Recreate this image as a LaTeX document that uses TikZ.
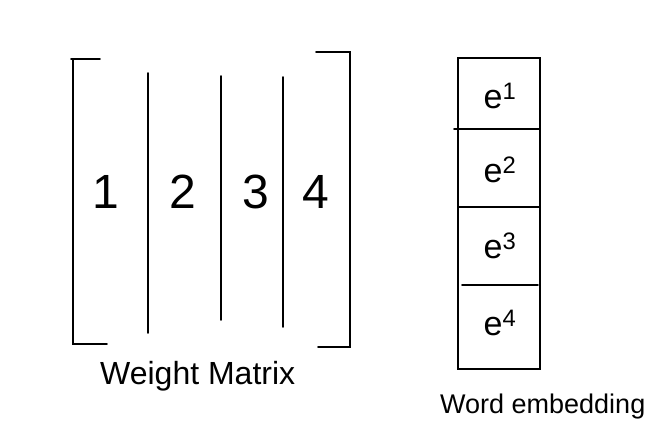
\documentclass[tikz,border=0pt]{standalone}
\usepackage{fontspec}
\setmainfont{Liberation Sans}
\begin{document}
\begin{tikzpicture}[x=1pt,y=-1pt,
  stroke/.style={line width=1.8pt,line cap=round,black},
  digit/.style={font=\fontsize{48}{48}\selectfont,inner sep=0pt},
  elabel/.style={font=\fontsize{34}{34}\selectfont,inner sep=0pt},
  caption/.style={font=\fontsize{27}{27}\selectfont,inner sep=0pt,anchor=base west}]
\useasboundingbox[fill=white] (0,0) rectangle (670,442);
% left bracket
\draw[stroke] (71,59) -- (100,59);
\draw[stroke] (73,60) -- (73,344) -- (107,344);
% right bracket
\draw[stroke] (316,52) -- (350,52) -- (350,347) -- (318,347);
% column separators
\draw[stroke] (148,73) -- (148,333);
\draw[stroke] (221,76) -- (221,320);
\draw[stroke] (283,77) -- (283,327);
% numbers
\node[digit] (n1) at (106,192) {1};
\node[digit] (n2) at (183,192) {2};
\node[digit] (n3) at (256,192) {3};
\node[digit] (n4) at (316,192) {4};
% word embedding box
\draw[stroke] (458,58) rectangle (540,369);
\draw[stroke] (454,129) -- (540,129);
\draw[stroke] (458,207) -- (540,207);
\draw[stroke] (462,285) -- (538,285);
\node[elabel] (e1) at (500,96) {e$^{\mathrm 1}$};
\node[elabel] (e2) at (500,170) {e$^{\mathrm 2}$};
\node[elabel] (e3) at (500,246) {e$^{\mathrm 3}$};
\node[elabel] (e4) at (500,323) {e$^{\mathrm 4}$};
% captions
\node[caption,font=\fontsize{32}{32}\selectfont] (wm) at (100,384) {Weight Matrix};
\node[caption] (we) at (440,413) {Word embedding};
\end{tikzpicture}
\end{document}
